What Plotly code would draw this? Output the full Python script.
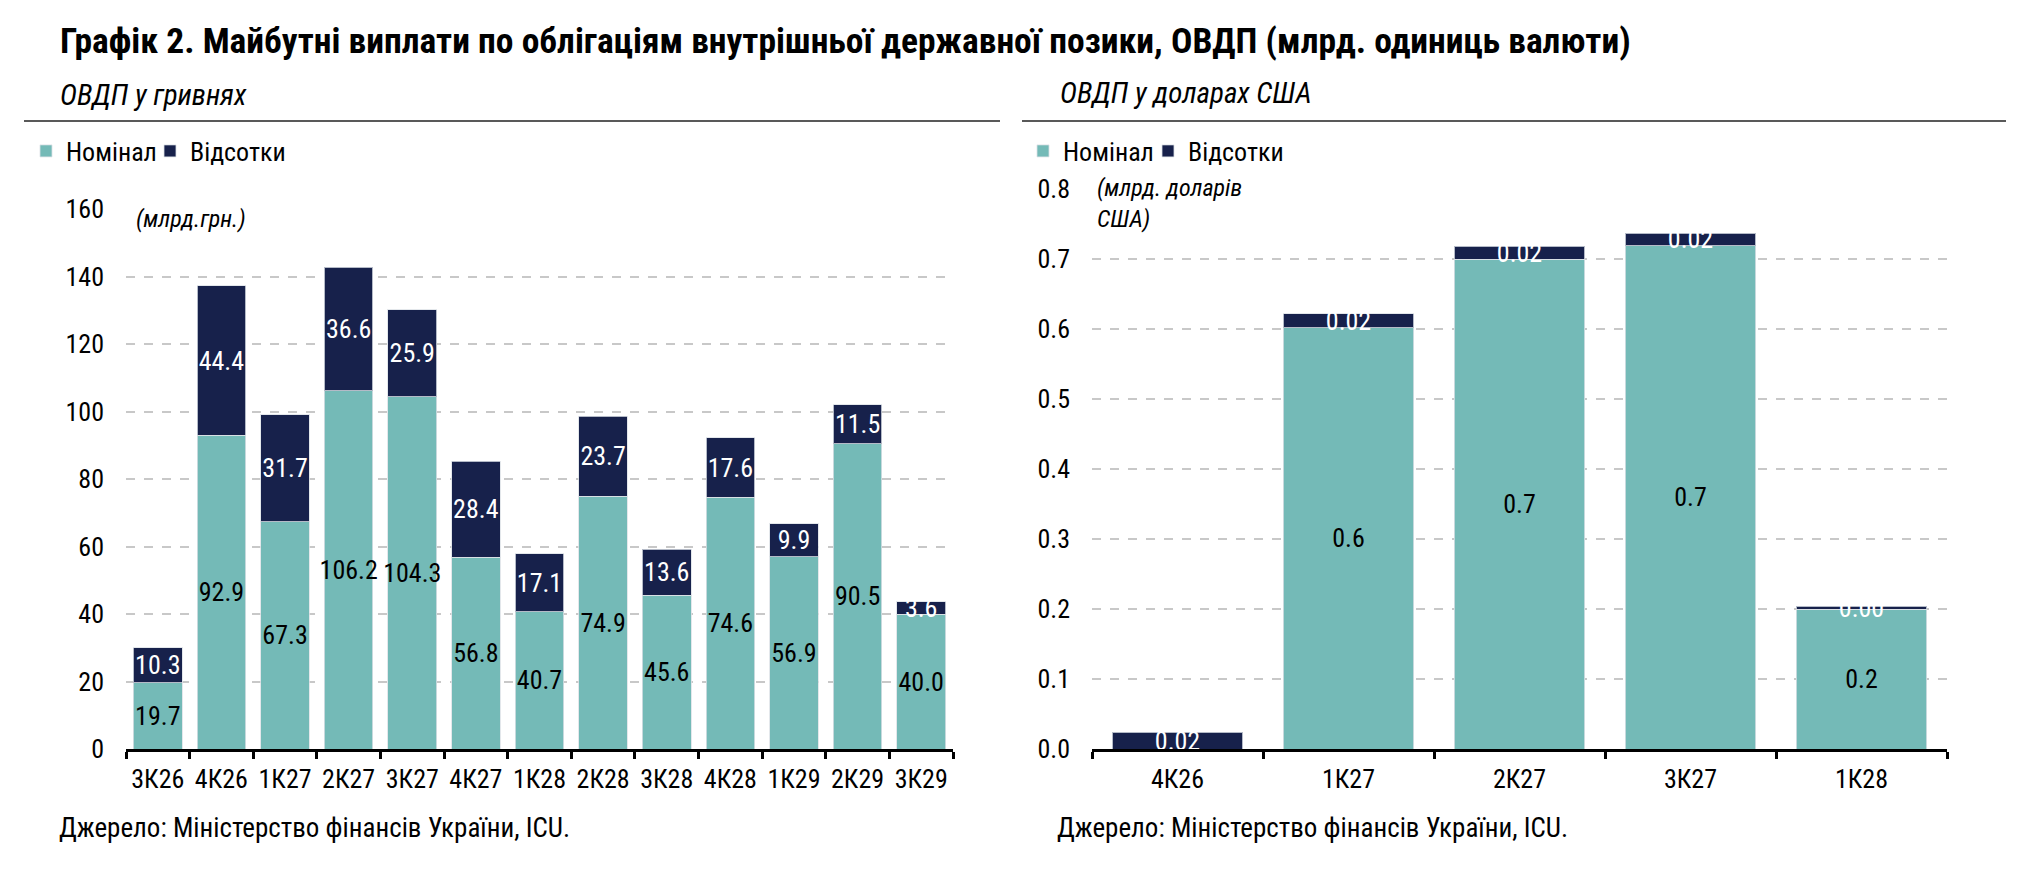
import plotly.graph_objects as go
from plotly.subplots import make_subplots

# ОВДП у гривнях (млрд грн)
uah_quarters = ["3К26", "4К26", "1К27", "2К27", "3К27", "4К27", "1К28",
                "2К28", "3К28", "4К28", "1К29", "2К29", "3К29"]
uah_nominal = [19.7, 92.9, 67.3, 106.2, 104.3, 56.8, 40.7, 74.9, 45.6, 74.6, 56.9, 90.5, 40.0]
uah_interest = [10.3, 44.4, 31.7, 36.6, 25.9, 28.4, 17.1, 23.7, 13.6, 17.6, 9.9, 11.5, 3.6]

# ОВДП у доларах США (млрд дол.)
usd_quarters = ["4К26", "1К27", "2К27", "3К27", "1К28"]
usd_nominal = [0.0, 0.602, 0.70, 0.719, 0.20]
usd_interest = [0.024, 0.02, 0.018, 0.018, 0.004]

uah_ticks = [0, 20, 40, 60, 80, 100, 120, 140, 160]
usd_ticks = [0.0, 0.1, 0.2, 0.3, 0.4, 0.5, 0.6, 0.7, 0.8]

TEAL = "#74BAB7"
NAVY = "#17214B"
FONT = "Roboto Condensed, Liberation Sans Narrow, DejaVu Sans Condensed, sans-serif"
W, H = 2022, 870
OFF = 8  # page body margin


def px_x(v):
    return (v - OFF) / W


def px_y(v):
    return 1 - (v - OFF) / H


fig = make_subplots(rows=1, cols=2)

bar_style = dict(textposition="inside", insidetextanchor="middle", textangle=0,
                 constraintext="none", cliponaxis=False, showlegend=True)

fig.add_trace(go.Bar(x=uah_quarters, y=uah_nominal, name="Номінал", marker_color=TEAL,
                     text=[f"{v:.1f}" for v in uah_nominal],
                     textfont=dict(color="black", size=26, family=FONT),
                     legend="legend", **bar_style), row=1, col=1)
fig.add_trace(go.Bar(x=uah_quarters, y=uah_interest, name="Відсотки", marker_color=NAVY,
                     text=[f"{v:.1f}" for v in uah_interest],
                     textfont=dict(color="white", size=26, family=FONT),
                     legend="legend2", **bar_style), row=1, col=1)

fig.add_trace(go.Bar(x=usd_quarters, y=usd_nominal, name="Номінал", marker_color=TEAL,
                     text=[f"{v:.1f}" if v > 0 else "" for v in usd_nominal],
                     textfont=dict(color="black", size=26, family=FONT),
                     legend="legend3", **bar_style), row=1, col=2)
fig.add_trace(go.Bar(x=usd_quarters, y=usd_interest, name="Відсотки", marker_color=NAVY,
                     text=[f"{v:.2f}" for v in usd_interest],
                     textfont=dict(color="white", size=26, family=FONT),
                     legend="legend4", **bar_style), row=1, col=2)

fig.update_traces(marker_line=dict(color="rgba(220,225,230,0.8)", width=1))

axis_common = dict(showline=True, linecolor="black", linewidth=3, ticks="outside",
                   tickson="boundaries", ticklen=7, tickwidth=3, tickcolor="black",
                   tickangle=0, automargin=False, ticklabelstandoff=5,
                   tickfont=dict(size=26, color="black", family=FONT), showgrid=False)
yaxis_common = dict(showgrid=True, gridcolor="#C8C8C8", griddash="dash", gridwidth=2,
                    zeroline=False, showline=False, ticks="", ticklabelstandoff=21,
                    automargin=False,
                    tickfont=dict(size=26, color="black", family=FONT))

fig.update_xaxes(domain=[px_x(126), px_x(953)], **axis_common, row=1, col=1)
fig.update_xaxes(domain=[px_x(1092), px_x(1947)], **axis_common, row=1, col=2)
fig.update_yaxes(domain=[px_y(749), px_y(209)], range=[0, 160], tickvals=uah_ticks,
                 **yaxis_common, row=1, col=1)
fig.update_yaxes(domain=[px_y(749), px_y(189)], range=[0, 0.8], tickvals=usd_ticks,
                 tickformat=".1f", **yaxis_common, row=1, col=2)

legend_style = dict(orientation="h", xanchor="left", yanchor="middle", bgcolor="rgba(0,0,0,0)",
                    font=dict(size=26, color="black", family=FONT), itemwidth=30,
                    visible=True)
fig.update_layout(
    width=W, height=H, barmode="stack", bargap=0.235, showlegend=True,
    plot_bgcolor="white", paper_bgcolor="white",
    margin=dict(l=0, r=0, t=0, b=0),
    font=dict(family=FONT, color="black"),
    legend=dict(x=px_x(26), y=px_y(151), **legend_style),
    legend2=dict(x=px_x(150), y=px_y(151), **legend_style),
    legend3=dict(x=px_x(1023), y=px_y(151), **legend_style),
    legend4=dict(x=px_x(1148), y=px_y(151), **legend_style),
)

notes = [
    dict(x=px_x(58), y=px_y(41), text="<b>Графік 2. Майбутні виплати по облігаціям внутрішньої державної позики, ОВДП (млрд. одиниць валюти)</b>",
         font=dict(size=35.5)),
    dict(x=px_x(58), y=px_y(95), text="<i>ОВДП у гривнях</i>", font=dict(size=29)),
    dict(x=px_x(1058), y=px_y(93), text="<i>ОВДП у доларах США</i>", font=dict(size=29)),
    dict(x=px_x(134), y=px_y(219), text="<i>(млрд.грн.)</i>", font=dict(size=24), bgcolor="white"),
    dict(x=px_x(1095), y=px_y(203), text="<i>(млрд. доларів<br>США)</i>", font=dict(size=24),
         bgcolor="white", align="left"),
    dict(x=px_x(57), y=px_y(828), text="Джерело: Міністерство фінансів України, ICU.", font=dict(size=27)),
    dict(x=px_x(1055), y=px_y(828), text="Джерело: Міністерство фінансів України, ICU.", font=dict(size=27)),
]
for n in notes:
    fig.add_annotation(xref="paper", yref="paper", xanchor="left", yanchor="middle",
                       showarrow=False, **n)

fig.add_shape(type="line", xref="paper", yref="paper", x0=px_x(24), x1=px_x(1000),
              y0=px_y(121), y1=px_y(121), line=dict(color="#222222", width=1.5))
fig.add_shape(type="line", xref="paper", yref="paper", x0=px_x(1022), x1=px_x(2006),
              y0=px_y(121), y1=px_y(121), line=dict(color="#222222", width=1.5))

fig.write_html("out.html")
